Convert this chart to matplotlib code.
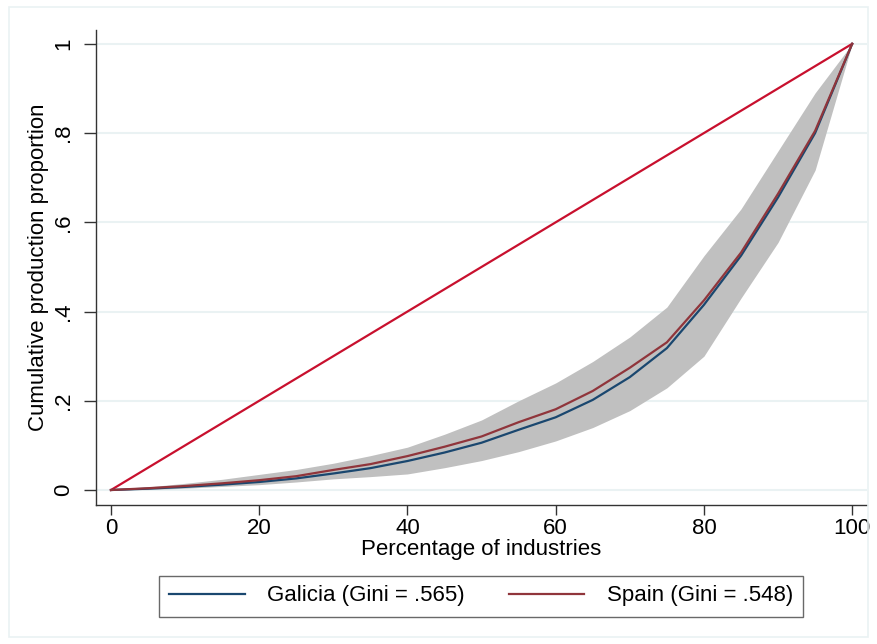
import matplotlib
matplotlib.use('Agg')
import matplotlib.pyplot as plt
from matplotlib.patches import Rectangle

FONT = 'Liberation Sans'
NAVY = '#1a476f'
MAROON = '#90353b'
DIAG = '#c8102e'
BAND = '#c0c0c0'
GRID = '#eaf2f3'
AXIS = '#333333'

# share of industries (%)
pct = [0, 5, 10, 15, 20, 25, 30, 35, 40, 45, 50,
       55, 60, 65, 70, 75, 80, 85, 90, 95, 100]

galicia = [0, 0.003, 0.007, 0.012, 0.018, 0.026, 0.037, 0.049, 0.065, 0.084, 0.106,
           0.135, 0.163, 0.202, 0.253, 0.318, 0.415, 0.525, 0.656, 0.80, 1.0]
spain = [0, 0.004, 0.009, 0.015, 0.022, 0.031, 0.045, 0.058, 0.076, 0.097, 0.120,
         0.152, 0.181, 0.222, 0.274, 0.331, 0.425, 0.532, 0.664, 0.805, 1.0]

# shaded band
band_lo = [0, 0.001, 0.004, 0.008, 0.012, 0.018, 0.025, 0.030, 0.036, 0.050, 0.066,
           0.086, 0.110, 0.140, 0.178, 0.229, 0.300, 0.430, 0.555, 0.717, 1.0]
band_hi = [0, 0.007, 0.015, 0.024, 0.035, 0.046, 0.060, 0.077, 0.096, 0.125, 0.157,
           0.200, 0.240, 0.288, 0.343, 0.410, 0.525, 0.630, 0.760, 0.890, 1.0]

yticks = [0, 0.2, 0.4, 0.6, 0.8, 1.0]
ytick_labels = ['0', '.2', '.4', '.6', '.8', '1']
xticks = [0, 20, 40, 60, 80, 100]

fig = plt.figure(figsize=(8.77, 6.44), dpi=100)
fig.patch.set_facecolor('white')

# light outer frame of the graph region
fig.add_artist(Rectangle((9 / 877, 1 - 637 / 644), 859 / 877, 630 / 644,
                         transform=fig.transFigure, facecolor='none',
                         edgecolor=GRID, linewidth=1.2))

ax = fig.add_axes([96 / 877, 1 - 505 / 644, 771 / 877, 475 / 644])
ax.set_xlim(-2.02, 102.0)
ax.set_ylim(-0.0336, 1.031)

for t in yticks:
    ax.axhline(t, color=GRID, linewidth=1.5, zorder=0)

ax.fill_between(pct, band_lo, band_hi, color=BAND, linewidth=0, zorder=1)
ax.plot([0, 100], [0, 1], color=DIAG, linewidth=1.6, zorder=2)
ax.plot(pct, galicia, color=NAVY, linewidth=1.6, zorder=3,
        label='Galicia (Gini = .565)')
ax.plot(pct, spain, color=MAROON, linewidth=1.6, zorder=4,
        label='Spain (Gini = .548)')

for side in ['top', 'right']:
    ax.spines[side].set_visible(False)
for side in ['left', 'bottom']:
    ax.spines[side].set_color(AXIS)
    ax.spines[side].set_linewidth(1.0)

ax.set_xticks(xticks)
ax.set_xticklabels([str(t) for t in xticks], fontsize=16, fontfamily=FONT)
ax.set_yticks(yticks)
ax.set_yticklabels(ytick_labels, fontsize=16, fontfamily=FONT,
                   rotation=90, va='center')
ax.tick_params(axis='both', direction='out', width=1.0,
               color=AXIS, labelcolor='black')
ax.tick_params(axis='x', length=7, pad=2)
ax.tick_params(axis='y', length=9, pad=7)

ax.set_xlabel('Percentage of industries', fontsize=16, fontfamily=FONT, labelpad=0)
ax.set_ylabel('Cumulative production proportion', fontsize=16, fontfamily=FONT,
              labelpad=3)

handles, labels = ax.get_legend_handles_labels()
leg = fig.legend(handles, labels, loc='center', bbox_to_anchor=(481 / 877, 1 - 596 / 644),
                 ncol=2, frameon=True, fancybox=False, edgecolor='#444444',
                 prop={'family': FONT, 'size': 16}, handlelength=3.4,
                 handletextpad=1.0, columnspacing=2.0, borderpad=0.45,
                 borderaxespad=0)
leg.get_frame().set_linewidth(1.0)

fig.savefig('out.png', dpi=100, facecolor='white')
